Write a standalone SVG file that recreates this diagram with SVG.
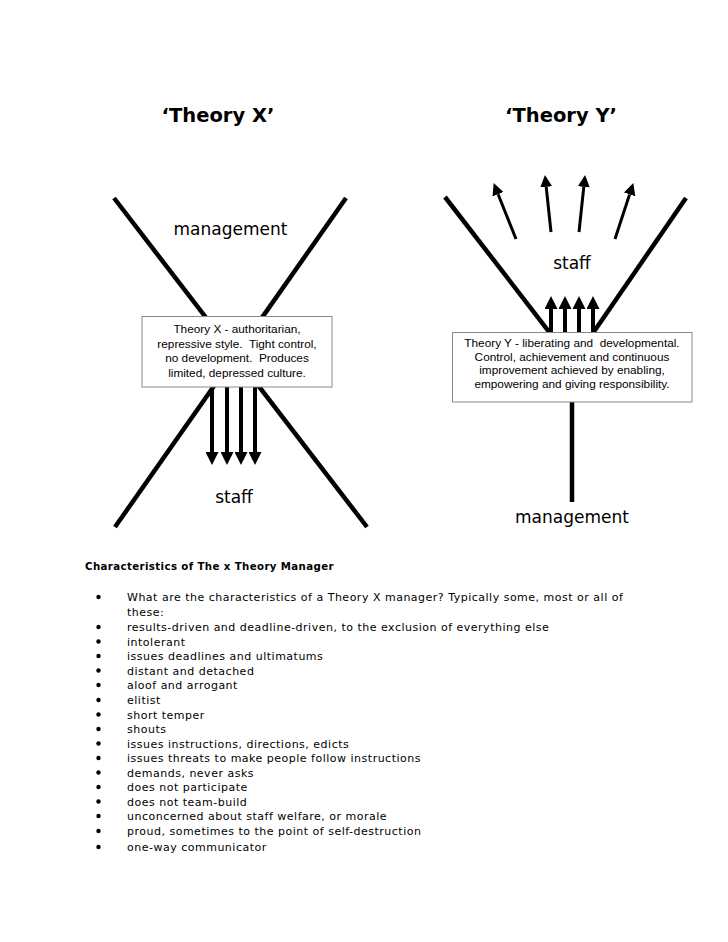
<svg xmlns="http://www.w3.org/2000/svg" width="728" height="942" viewBox="0 0 728 942">
<style>
.title{font-family:"DejaVu Sans","Verdana",sans-serif;font-weight:bold;font-size:19.5px;fill:#000;text-anchor:middle}
.lbl{font-family:"DejaVu Sans","Verdana",sans-serif;font-size:17px;fill:#000;text-anchor:middle}
.box{fill:#fff;stroke:#8a8a8a;stroke-width:1}
.bt{font-family:"Liberation Sans","Arial",sans-serif;font-size:11.8px;fill:#000;text-anchor:middle;white-space:pre}
.big{stroke:#000;stroke-width:4.5;fill:none}
.arr{stroke:#000;stroke-width:4;fill:none}
.fan{stroke:#000;stroke-width:3;fill:none}
.head{fill:#000}
.h{font-family:"DejaVu Sans","Verdana",sans-serif;font-weight:bold;font-size:10.2px;letter-spacing:0.4px;fill:#000}
.li{font-family:"DejaVu Sans","Verdana",sans-serif;font-size:11px;letter-spacing:0.5px;fill:#000}
.dot{fill:#000}
</style>
<defs>
<marker id="ah" markerUnits="userSpaceOnUse" markerWidth="13" markerHeight="13" refX="0" refY="6" orient="auto" viewBox="0 0 12 12">
<path class="head" d="M0,0 L12,6 L0,12 z"/>
</marker>
<marker id="ahs" markerUnits="userSpaceOnUse" markerWidth="12" markerHeight="12" refX="0" refY="6" orient="auto" viewBox="0 0 12 12">
<path class="head" d="M0,0 L12,6 L0,12 z"/>
</marker>
</defs>
<rect width="728" height="942" fill="#fff"/>

<g id="title-x"><text class="title" x="218" y="122">‘Theory X’</text></g>
<g id="title-y"><text class="title" x="561" y="122">‘Theory Y’</text></g>

<g id="connectors">
<line class="big" x1="114" y1="198" x2="367" y2="527"/>
<line class="big" x1="346" y1="198" x2="115" y2="527"/>
<line class="arr" x1="212" y1="387" x2="212" y2="452" marker-end="url(#ah)"/>
<line class="arr" x1="227" y1="387" x2="227" y2="452" marker-end="url(#ah)"/>
<line class="arr" x1="241" y1="387" x2="241" y2="452" marker-end="url(#ah)"/>
<line class="arr" x1="255" y1="387" x2="255" y2="452" marker-end="url(#ah)"/>
<line class="big" x1="445" y1="197" x2="550" y2="333"/>
<line class="big" x1="686" y1="198" x2="593" y2="333"/>
<line class="arr" x1="551" y1="333" x2="551" y2="309" marker-end="url(#ah)"/>
<line class="arr" x1="565" y1="333" x2="565" y2="309" marker-end="url(#ah)"/>
<line class="arr" x1="579" y1="333" x2="579" y2="309" marker-end="url(#ah)"/>
<line class="arr" x1="593" y1="333" x2="593" y2="309" marker-end="url(#ah)"/>
<line class="fan" x1="516" y1="239" x2="498.1" y2="194.2" marker-end="url(#ahs)"/>
<line class="fan" x1="551" y1="232" x2="546.2" y2="186.9" marker-end="url(#ahs)"/>
<line class="fan" x1="579" y1="232" x2="583.8" y2="186.9" marker-end="url(#ahs)"/>
<line class="fan" x1="615" y1="239" x2="629.6" y2="194.4" marker-end="url(#ahs)"/>
<line class="big" x1="572" y1="402" x2="572" y2="502" stroke-width="5"/>
</g>

<g id="x-management"><text class="lbl" x="230.5" y="235">management</text></g>
<g id="x-box">
<rect class="box" x="142" y="316.5" width="190" height="70.5"/>
<text class="bt" x="237" y="333">Theory X - authoritarian,</text>
<text class="bt" x="237" y="347.7">repressive style.  Tight control,</text>
<text class="bt" x="237" y="362.4">no development.  Produces</text>
<text class="bt" x="237" y="377">limited, depressed culture.</text>
</g>
<g id="x-staff"><text class="lbl" x="234" y="503">staff</text></g>

<g id="y-staff"><text class="lbl" x="572" y="269">staff</text></g>
<g id="y-box">
<rect class="box" x="452.5" y="332.5" width="239.5" height="69.5"/>
<text class="bt" x="572" y="347">Theory Y - liberating and  developmental.</text>
<text class="bt" x="572" y="360.5">Control, achievement and continuous</text>
<text class="bt" x="572" y="374">improvement achieved by enabling,</text>
<text class="bt" x="572" y="388">empowering and giving responsibility.</text>
</g>
<g id="y-management"><text class="lbl" x="572" y="523">management</text></g>

<g id="characteristics">
<text class="h" x="85" y="570">Characteristics of The x Theory Manager</text>
<g class="dot">
<circle cx="98.5" cy="597" r="2.2"/>
<circle cx="98.5" cy="627" r="2.2"/>
<circle cx="98.5" cy="641.5" r="2.2"/>
<circle cx="98.5" cy="656" r="2.2"/>
<circle cx="98.5" cy="670.5" r="2.2"/>
<circle cx="98.5" cy="685" r="2.2"/>
<circle cx="98.5" cy="700" r="2.2"/>
<circle cx="98.5" cy="714.5" r="2.2"/>
<circle cx="98.5" cy="729" r="2.2"/>
<circle cx="98.5" cy="743.5" r="2.2"/>
<circle cx="98.5" cy="758" r="2.2"/>
<circle cx="98.5" cy="772.5" r="2.2"/>
<circle cx="98.5" cy="787" r="2.2"/>
<circle cx="98.5" cy="801.5" r="2.2"/>
<circle cx="98.5" cy="816" r="2.2"/>
<circle cx="98.5" cy="831" r="2.2"/>
<circle cx="98.5" cy="847" r="2.2"/>
</g>
<text class="li" x="127" y="601">What are the characteristics of a Theory X manager? Typically some, most or all of</text>
<text class="li" x="127" y="616">these:</text>
<text class="li" x="127" y="631">results-driven and deadline-driven, to the exclusion of everything else</text>
<text class="li" x="127" y="645.5">intolerant</text>
<text class="li" x="127" y="660">issues deadlines and ultimatums</text>
<text class="li" x="127" y="674.5">distant and detached</text>
<text class="li" x="127" y="689">aloof and arrogant</text>
<text class="li" x="127" y="704">elitist</text>
<text class="li" x="127" y="718.5">short temper</text>
<text class="li" x="127" y="733">shouts</text>
<text class="li" x="127" y="747.5">issues instructions, directions, edicts</text>
<text class="li" x="127" y="762">issues threats to make people follow instructions</text>
<text class="li" x="127" y="776.5">demands, never asks</text>
<text class="li" x="127" y="791">does not participate</text>
<text class="li" x="127" y="805.5">does not team-build</text>
<text class="li" x="127" y="820">unconcerned about staff welfare, or morale</text>
<text class="li" x="127" y="835">proud, sometimes to the point of self-destruction</text>
<text class="li" x="127" y="851">one-way communicator</text>
</g>
</svg>
